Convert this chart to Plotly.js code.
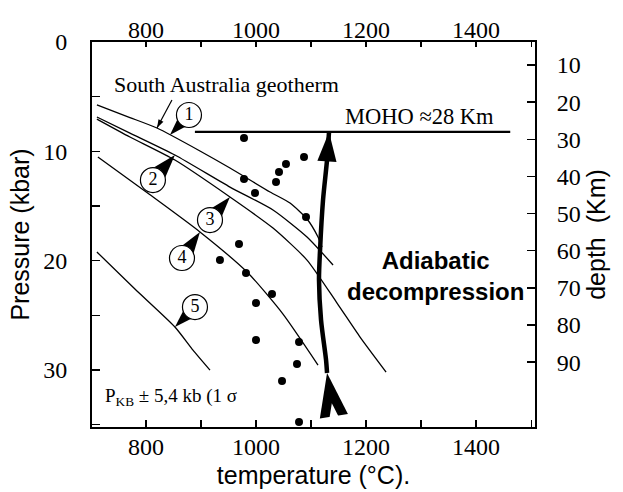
<!DOCTYPE html>
<html><head><meta charset="utf-8">
<script src="https://cdn.plot.ly/plotly-3.0.1.min.js"></script>
<style>html,body{margin:0;padding:0;background:#fff}</style>
</head><body><div id="chart" style="width:623px;height:492px"></div>
<script>
// ---------- data (temperature °C, pressure kbar) ----------
const geothermT = [710.9, 770.9, 820.0, 898.2, 952.7, 1025.5, 1061.8, 1092.7, 1112.7, 1120.0];
const geothermP = [5.76, 6.91, 7.87, 9.97, 11.53, 13.72, 14.73, 16.19, 17.84, 18.76];
const curve2T = [710.9, 770.9, 852.7, 952.7, 1030.9, 1092.7, 1140.0];
const curve2P = [6.86, 8.33, 10.34, 13.27, 15.37, 17.84, 20.40];
const curve3T = [710.9, 770.9, 852.7, 952.7, 1030.9, 1092.7, 1147.3, 1189.1, 1236.4];
const curve3P = [7.05, 8.69, 10.80, 14.18, 17.02, 19.95, 23.88, 26.99, 30.19];
const curve4T = [712.7, 805.5, 898.2, 985.5, 1049.1, 1112.7];
const curve4P = [10.52, 13.91, 17.38, 21.13, 24.89, 29.55];
const curve5T = [710.9, 780.0, 852.7, 885.5, 916.4];
const curve5P = [19.21, 22.60, 26.07, 28.18, 30.01];

const dotT = [978.2, 1087.3, 1054.5, 1041.8, 1036.4, 978.2, 998.2, 1090.9, 969.1, 934.5, 981.8, 1029.1, 1000.0, 1000.0, 1078.2, 1074.5, 1047.3, 1078.2];
const dotP = [8.78, 10.52, 11.16, 11.89, 12.81, 12.53, 13.82, 16.01, 18.48, 19.95, 21.13, 23.06, 23.88, 27.26, 27.45, 29.46, 31.02, 34.77];

// MOHO at ≈28 km depth (drawn on the depth axis)
const mohoT = [889, 1462];
const mohoDepth = [28, 28];

const adiabatT = [1129.1, 1127.3, 1118.2, 1114.5, 1116.4, 1121.8, 1129.1, 1132.7];
const adiabatP = [30.28, 29.09, 25.43, 21.77, 19.03, 14.46, 10.80, 8.23];

const labels = ['1', '2', '3', '4', '5'];
const labelT = [878.2, 812.7, 916.4, 865.5, 889.1];
const labelP = [6.68, 12.63, 16.29, 19.76, 24.25];
const tipT = [843.6, 852.7, 952.7, 898.2, 852.7];
const tipP = [8.51, 10.34, 14.18, 17.38, 26.07];

// point of the geotherm that the caption arrow designates
const geoPointT = 820.0;
const geoPointP = 7.87;

const depthTicks = [10, 20, 30, 40, 50, 60, 70, 80, 90];
const tempTicks = [800, 1000, 1200, 1400];
const pressTicks = [0, 10, 20, 30];

// ---------- geometry helpers ----------
const W = 623, H = 492;
const M = {l: 92, r: 88, t: 42, b: 65};
const xRange = [702, 1507];
const yRange = [35.22, 0];
const depthRange = [107.46, 3.81];
const pw = W - M.l - M.r, ph = H - M.t - M.b;
const toPx = T => M.l + (T - xRange[0]) / (xRange[1] - xRange[0]) * pw;
const toPy = P => M.t + (P - yRange[1]) / (yRange[0] - yRange[1]) * ph;
const fromPx = px => xRange[0] + (px - M.l) / pw * (xRange[1] - xRange[0]);
const fromPy = py => yRange[1] + (py - M.t) / ph * (yRange[0] - yRange[1]);
const angleOf = (dx, dy) => Math.atan2(dx, -dy) * 180 / Math.PI;

const black = '#000';
const serif = 'Liberation Serif';
const sans = 'Liberation Sans';
const curveLine = {color: black, width: 1.3, shape: 'spline', smoothing: 0.6};

// wedge pointers for the numbered labels
const wedgeAngle = [], wedgeSize = [];
for (let i = 0; i < labels.length; i++) {
  const dx = toPx(tipT[i]) - toPx(labelT[i]);
  const dy = toPy(tipP[i]) - toPy(labelP[i]);
  const d = Math.hypot(dx, dy);
  wedgeAngle.push(angleOf(dx, dy));
  wedgeSize.push((d - 2) / 0.951);
}

// arrow heads of the adiabatic path
const n = adiabatT.length;
const headAngle = angleOf(toPx(adiabatT[n-1]) - toPx(adiabatT[n-2]), toPy(adiabatP[n-1]) - toPy(adiabatP[n-2]));
const tailAngle = -9;
const tailSize = 46;
const tailH = 0.951 * tailSize;
const ta = tailAngle * Math.PI / 180;
const tipPx = toPx(adiabatT[0]), tipPy = toPy(adiabatP[0]);
const notchPx = tipPx - Math.sin(ta) * tailH * 0.7;
const notchPy = tipPy + Math.cos(ta) * tailH * 0.7;

// caption pointer (short line from below the caption to the geotherm)
const gx = toPx(geoPointT), gy = toPy(geoPointP);
const gTail = [gx + 15, gy - 28];
const geoPtrT = [fromPx(gTail[0]), geoPointT];
const geoPtrP = [fromPy(gTail[1]), geoPointP];

const traces = [
  {x: geothermT, y: geothermP, mode: 'lines', line: curveLine, name: 'South Australia geotherm / 1'},
  {x: curve2T, y: curve2P, mode: 'lines', line: curveLine, name: '2'},
  {x: curve3T, y: curve3P, mode: 'lines', line: curveLine, name: '3'},
  {x: curve4T, y: curve4P, mode: 'lines', line: curveLine, name: '4'},
  {x: curve5T, y: curve5P, mode: 'lines', line: curveLine, name: '5'},
  {x: mohoT, y: mohoDepth, xaxis: 'x2', yaxis: 'y2', mode: 'lines', line: {color: black, width: 2.2}, name: 'MOHO'},
  {x: dotT, y: dotP, mode: 'markers', marker: {color: black, size: 8, opacity: 1}, name: 'samples'},
  {x: geoPtrT, y: geoPtrP, mode: 'lines+markers', line: {color: black, width: 1.2},
   marker: {symbol: 'arrow', color: black, opacity: 1, size: [0, 9], angle: angleOf(-15, 28), line: {width: 0}}, name: 'geotherm pointer'},
  {x: adiabatT, y: adiabatP, mode: 'lines', line: {color: black, width: 4.5, shape: 'spline', smoothing: 0.8}, name: 'Adiabatic decompression'},
  {x: [adiabatT[n-1], adiabatT[0]], y: [adiabatP[n-1], adiabatP[0]], mode: 'markers',
   marker: {symbol: 'arrow', color: black, opacity: 1, size: [31, tailSize], angle: [headAngle, tailAngle], line: {width: 0}}, name: 'heads'},
  {x: [fromPx(notchPx)], y: [fromPy(notchPy)], mode: 'markers',
   marker: {symbol: 'arrow', color: '#fff', opacity: 1, size: tailH * 0.34 / 0.951, angle: tailAngle, line: {width: 0}}, name: 'notch'},
  {x: tipT, y: tipP, mode: 'markers', marker: {symbol: 'arrow', color: black, opacity: 1, size: wedgeSize, angle: wedgeAngle, line: {width: 0}}, name: 'pointers'},
  {x: labelT, y: labelP, mode: 'markers+text', text: labels, textposition: 'middle center',
   textfont: {family: serif, size: 18, color: black},
   marker: {symbol: 'circle', color: '#fff', opacity: 1, size: 25, line: {color: black, width: 1.2}}, name: 'labels'}
];
traces.forEach(t => { t.showlegend = false; t.hoverinfo = 'skip'; t.cliponaxis = false; });

const tickFont = {family: serif, size: 24, color: black};
const titleFont = {family: sans, size: 25, color: black};
const common = {showline: true, linewidth: 2, linecolor: black, showgrid: false, zeroline: false,
  ticks: 'inside', ticklen: 7, tickwidth: 1.3, tickcolor: black, tickfont: tickFont};

const layout = {
  width: W, height: H,
  margin: {l: M.l, r: M.r, t: M.t, b: M.b, pad: 0},
  paper_bgcolor: '#fff', plot_bgcolor: '#fff',
  showlegend: false,
  xaxis: Object.assign({}, common, {range: xRange, tickmode: 'array', tickvals: tempTicks,
    minor: {dtick: 100, tick0: 700, ticks: 'inside', ticklen: 7, tickwidth: 1.3, tickcolor: black},
    ticklabelstandoff: -3,
    title: {text: 'temperature (°C).', font: titleFont, standoff: 8}}),
  xaxis2: Object.assign({}, common, {range: xRange, overlaying: 'x', side: 'top', anchor: 'y2',
    tickmode: 'array', tickvals: tempTicks, ticklen: 5,
    minor: {dtick: 100, tick0: 700, ticks: 'inside', ticklen: 5, tickwidth: 1.3, tickcolor: black},
    ticklabelstandoff: -8}),
  yaxis: Object.assign({}, common, {range: yRange, tickmode: 'array', tickvals: pressTicks, ticklen: 8,
    minor: {dtick: 5, tick0: 0, ticks: 'inside', ticklen: 8, tickwidth: 1.3, tickcolor: black},
    ticklabelstandoff: 18,
    title: {text: 'Pressure (kbar)', font: titleFont, standoff: 6}}),
  yaxis2: Object.assign({}, common, {range: depthRange, overlaying: 'y', side: 'right', anchor: 'x2',
    tickmode: 'array', tickvals: depthTicks, ticklen: 8, ticklabelstandoff: 15,
    title: {text: 'depth  (Km)', font: titleFont, standoff: 8}}),
  annotations: [
    {x: 945.5, y: 3.93, text: 'South Australia geotherm', showarrow: false, font: {family: serif, size: 22, color: black}},
    {x: 1298, y: 6.85, text: 'MOHO ≈28 Km', showarrow: false, font: {family: serif, size: 22.5, color: black}},
    {x: 1327, y: 21.45, text: '<b>Adiabatic</b><br><b>decompression</b>', showarrow: false, font: {family: sans, size: 24, color: black}},
    {x: 721.8, y: 32.5, xanchor: 'left', text: 'P<sub>KB</sub> ± 5,4 kb (1 σ', showarrow: false, font: {family: serif, size: 19, color: black}}
  ]
};

Plotly.newPlot('chart', traces, layout, {staticPlot: true, displayModeBar: false});
</script></body></html>
